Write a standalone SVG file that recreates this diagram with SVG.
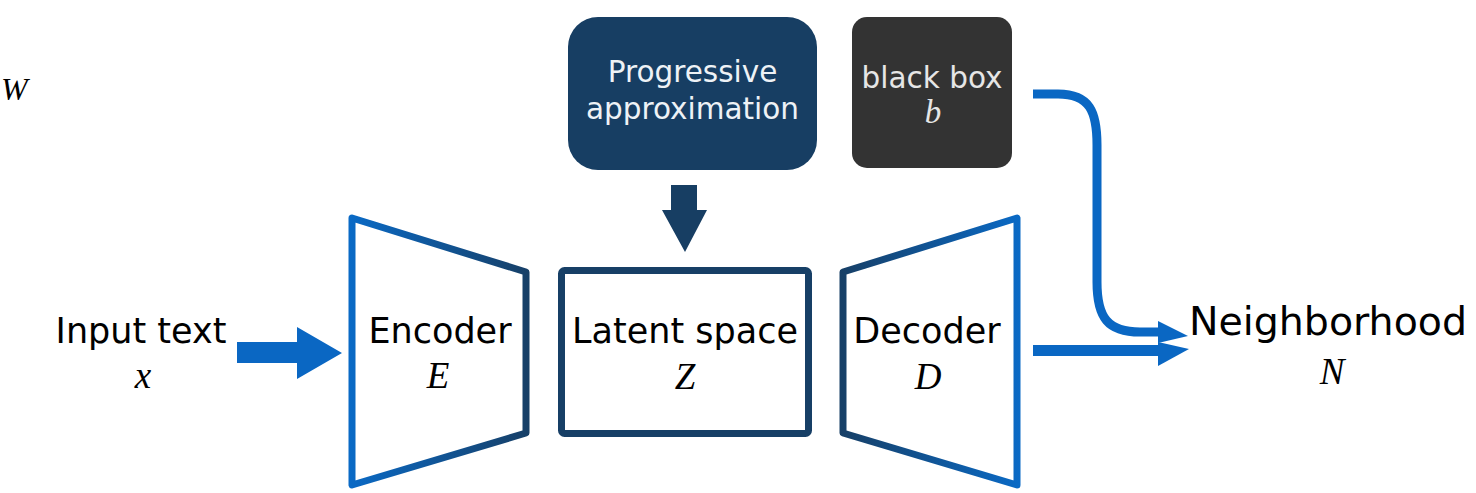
<svg xmlns="http://www.w3.org/2000/svg" width="1476" height="493" viewBox="0 0 1476 493">
<style>
.lbl{font-family:"DejaVu Sans","Verdana",sans-serif;fill:#000;text-anchor:middle}
.big{font-size:35px}
.box{font-size:29.5px}
.math{font-family:"Liberation Serif","Times New Roman",serif;font-style:italic;font-size:37px;fill:#000;text-anchor:middle}
.blue{fill:#0a67c3}
.navy{fill:#173e63}
</style>
<defs>
<linearGradient id="gEnc" gradientUnits="userSpaceOnUse" x1="349" y1="0" x2="530" y2="0">
<stop offset="0" stop-color="#0a6ac6"/><stop offset="1" stop-color="#173f66"/>
</linearGradient>
<linearGradient id="gDec" gradientUnits="userSpaceOnUse" x1="840" y1="0" x2="1021" y2="0">
<stop offset="0" stop-color="#173f66"/><stop offset="1" stop-color="#0a6ac6"/>
</linearGradient>
</defs>
<rect width="1476" height="493" fill="#fff"/>
<text x="1" y="100" class="math" style="text-anchor:start;font-size:32px">W</text>

<g id="input">
<text x="141" y="343" class="lbl big">Input text</text>
<text x="143" y="388" class="math">x</text>
</g>

<g id="encoder">
<polygon points="352,218 526,272 526,433 352,485" fill="#fff" stroke="url(#gEnc)" stroke-width="7" stroke-linejoin="round"/>
<text x="440" y="343" class="lbl big">Encoder</text>
<text x="438" y="388" class="math">E</text>
</g>

<g id="latent">
<rect x="561.5" y="270.5" width="247" height="163" rx="3" fill="#fff" stroke="#173f66" stroke-width="7"/>
<text x="685" y="343" class="lbl big">Latent space</text>
<text x="685" y="389" class="math">Z</text>
</g>

<g id="decoder">
<polygon points="843,272 1017,218 1017,485 843,433" fill="#fff" stroke="url(#gDec)" stroke-width="7" stroke-linejoin="round"/>
<text x="927" y="343" class="lbl big">Decoder</text>
<text x="928" y="389" class="math">D</text>
</g>

<g id="progressive">
<rect x="568" y="17" width="249" height="153" rx="30" fill="#173e63"/>
<text x="692.5" y="82" class="lbl box" style="fill:#eef2f6">Progressive</text>
<text x="692.5" y="119" class="lbl box" style="fill:#eef2f6">approximation</text>
</g>

<g id="blackbox">
<rect x="852" y="17" width="160" height="151" rx="15" fill="#333333"/>
<text x="932" y="88" class="lbl box" style="fill:#e6e6e6">black box</text>
<text x="933" y="123" class="math" style="fill:#e6e6e6;font-size:33px">b</text>
</g>

<g id="neighborhood">
<text x="1328" y="335" class="lbl" style="font-size:39.5px">Neighborhood</text>
<text x="1332" y="384" class="math">N</text>
</g>

<g id="connectors">
<polygon class="blue" points="237,342 297,342 297,327 342,353 297,379 297,363 237,363"/>
<polygon class="navy" points="671,185 697,185 697,210 707,210 685,252 662,210 671,210"/>
<path d="M1033,94 H1058 C1090,94 1097,112 1097,145 V282 C1097,318 1108,332 1140,332 H1162" fill="none" stroke="#0a67c3" stroke-width="9"/>
<polygon class="blue" points="1158,321 1188,336 1158,343"/>
<rect class="blue" x="1033" y="345" width="127" height="11"/>
<polygon class="blue" points="1158,342 1189,349 1158,366"/>
</g>
</svg>
